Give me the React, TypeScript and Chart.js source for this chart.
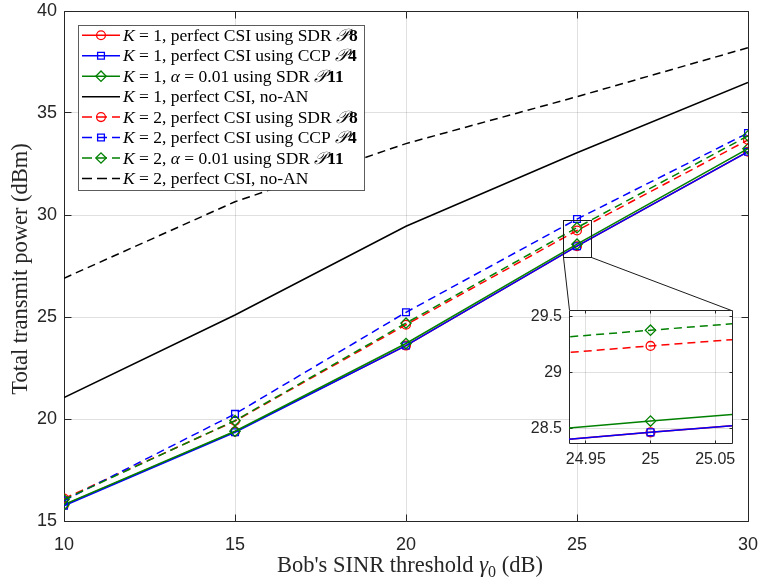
import React, { useEffect, useRef } from "react";
import { Chart, registerables } from "chart.js";

Chart.register(...registerables);

// ---------------- data ----------------
const snrDb = [10, 15, 20, 25, 30];
const k1SdrP8 = [15.78, 19.38, 23.6, 28.47, 33.1];
const k1CcpP4 = [15.75, 19.35, 23.6, 28.47, 33.1];
const k1AlphaP11 = [15.8, 19.4, 23.7, 28.57, 33.25];
const k1NoAn = [21.05, 25.1, 29.45, 33.05, 36.5];
const k2SdrP8 = [16.1, 19.9, 24.62, 29.24, 33.68];
const k2CcpP4 = [16.0, 20.25, 25.23, 29.8, 34.02];
const k2AlphaP11 = [16.05, 19.92, 24.7, 29.38, 33.88];
const k2NoAn = [26.9, 30.65, 33.5, 35.8, 38.2];

const mainXRange = [10, 30];
const mainYRange = [15, 40];
const mainTickStep = 5;
const insetXRange = [24.937, 25.063];
const insetYRange = [28.375, 29.56];
const insetXStep = 0.05;
const insetYStep = 0.5;
const zoomBoxX = [24.6, 25.43];
const zoomBoxY = [27.92, 29.72];

type Seg = [string, string]; // text, style: n normal, i italic, b bold, c calligraphic
const legendLabels: Seg[][] = [
  [["K", "i"], [" = 1, perfect CSI using SDR ", "n"], ["𝒫", "c"], ["8", "b"]],
  [["K", "i"], [" = 1, perfect CSI using CCP ", "n"], ["𝒫", "c"], ["4", "b"]],
  [["K", "i"], [" = 1, ", "n"], ["α", "i"], [" = 0.01 using SDR ", "n"], ["𝒫", "c"], ["11", "b"]],
  [["K", "i"], [" = 1, perfect CSI, no-AN", "n"]],
  [["K", "i"], [" = 2, perfect CSI using SDR ", "n"], ["𝒫", "c"], ["8", "b"]],
  [["K", "i"], [" = 2, perfect CSI using CCP ", "n"], ["𝒫", "c"], ["4", "b"]],
  [["K", "i"], [" = 2, ", "n"], ["α", "i"], [" = 0.01 using SDR ", "n"], ["𝒫", "c"], ["11", "b"]],
  [["K", "i"], [" = 2, perfect CSI, no-AN", "n"]],
];
const yTitle = "Total transmit power (dBm)";
const xTitleParts: Seg[] = [["Bob's SINR threshold ", "n"], ["γ", "i"], ["0", "sub"], [" (dB)", "n"]];

// ---------------- styles ----------------
const W = 758;
const H = 581;
const RED = "#ff0000";
const BLUE = "#0000ff";
const GREEN = "#008000";
const BLACK = "#000000";
const AXIS = "#262626";
const GRID = "rgba(38,38,38,0.14)";
const SANS = "'Liberation Sans', Arial, sans-serif";
const SERIF = "'Liberation Serif', 'Times New Roman', serif";
const LINE_W = 1.5;
const DASH = [8, 5];

type Marker = "circle" | "rect" | "rectRot" | null;
interface SeriesDef {
  values: number[];
  color: string;
  dashed: boolean;
  marker: Marker;
  label: Seg[];
}
const seriesDefs: SeriesDef[] = [
  { values: k1SdrP8, color: RED, dashed: false, marker: "circle", label: legendLabels[0] },
  { values: k1CcpP4, color: BLUE, dashed: false, marker: "rect", label: legendLabels[1] },
  { values: k1AlphaP11, color: GREEN, dashed: false, marker: "rectRot", label: legendLabels[2] },
  { values: k1NoAn, color: BLACK, dashed: false, marker: null, label: legendLabels[3] },
  { values: k2SdrP8, color: RED, dashed: true, marker: "circle", label: legendLabels[4] },
  { values: k2CcpP4, color: BLUE, dashed: true, marker: "rect", label: legendLabels[5] },
  { values: k2AlphaP11, color: GREEN, dashed: true, marker: "rectRot", label: legendLabels[6] },
  { values: k2NoAn, color: BLACK, dashed: true, marker: null, label: legendLabels[7] },
];
const markerRadius: Record<string, number> = { circle: 4.4, rect: 4.8, rectRot: 5.2 };

function buildDatasets() {
  return seriesDefs.map((s, i) => ({
    label: s.label.map((g) => g[0]).join(""),
    data: snrDb.map((x, k) => ({ x, y: s.values[k] })),
    borderColor: s.color,
    backgroundColor: "rgba(0,0,0,0)",
    borderWidth: LINE_W,
    borderDash: s.dashed ? DASH : [],
    pointStyle: s.marker || "circle",
    pointRadius: s.marker ? markerRadius[s.marker] : 0,
    pointBorderColor: s.color,
    pointBackgroundColor: "rgba(0,0,0,0)",
    pointBorderWidth: 1.3,
    tension: 0,
    fill: false,
    order: -i,
  }));
}

const align = (p: number) => Math.round(p - 0.5) + 0.5;
const tickFmt = (v: any) => String(Number(Number(v).toFixed(3)));

function framePlugin(tickLen: number) {
  return {
    id: "frame",
    beforeDatasetsDraw(chart: any) {
      const { ctx, chartArea: a, scales } = chart;
      const L = align(a.left), R = align(a.right), T = align(a.top), B = align(a.bottom);
      ctx.save();
      ctx.strokeStyle = AXIS;
      ctx.lineWidth = 1;
      ctx.setLineDash([]);
      ctx.beginPath();
      ctx.rect(L, T, R - L, B - T);
      for (const t of scales.x.ticks) {
        const x = align(scales.x.getPixelForValue(t.value));
        ctx.moveTo(x, B); ctx.lineTo(x, B - tickLen);
        ctx.moveTo(x, T); ctx.lineTo(x, T + tickLen);
      }
      for (const t of scales.y.ticks) {
        const y = align(scales.y.getPixelForValue(t.value));
        ctx.moveTo(L, y); ctx.lineTo(L + tickLen, y);
        ctx.moveTo(R, y); ctx.lineTo(R - tickLen, y);
      }
      ctx.stroke();
      ctx.restore();
    },
  };
}

function fontFor(style: string, size: number) {
  if (style === "i") return `italic ${size}px ${SERIF}`;
  if (style === "b") return `bold ${size}px ${SERIF}`;
  if (style === "c") return `italic ${size}px ${SERIF}`;
  if (style === "sub") return `${Math.round(size * 0.7)}px ${SERIF}`;
  return `${size}px ${SERIF}`;
}

function segWidth(ctx: CanvasRenderingContext2D, segs: Seg[], size: number) {
  let w = 0;
  for (const [t, s] of segs) {
    ctx.font = fontFor(s, size);
    w += ctx.measureText(t).width;
  }
  return w;
}

function drawSegs(ctx: CanvasRenderingContext2D, segs: Seg[], x: number, y: number, size: number) {
  for (const [t, s] of segs) {
    ctx.font = fontFor(s, size);
    const dy = s === "sub" ? size * 0.2 : 0;
    ctx.fillText(t, x, y + dy);
    x += ctx.measureText(t).width;
  }
  return x;
}

function drawMarker(ctx: CanvasRenderingContext2D, m: Marker, x: number, y: number) {
  if (!m) return;
  const r = markerRadius[m];
  ctx.lineWidth = 1.3;
  ctx.beginPath();
  if (m === "circle") ctx.arc(x, y, r, 0, Math.PI * 2);
  else if (m === "rect") {
    const s = r * Math.SQRT1_2;
    ctx.rect(x - s, y - s, 2 * s, 2 * s);
  } else {
    ctx.moveTo(x - r, y); ctx.lineTo(x, y - r); ctx.lineTo(x + r, y); ctx.lineTo(x, y + r); ctx.closePath();
  }
  ctx.stroke();
}

// Positions of the axes boxes (pixels on the page)
const MAIN_BOX = { left: 64, top: 11, right: 748, bottom: 521 };
const INSET_BOX = { left: 569, top: 310, right: 732, bottom: 443 };

const noScalePad = (s: any) => {
  s.paddingLeft = 0;
  s.paddingRight = 0;
  s.paddingTop = 0;
  s.paddingBottom = 0;
};

const overlayPlugin = {
  id: "overlay",
  afterDraw(chart: any) {
    const { ctx, chartArea: a, scales } = chart;
    const xs = scales.x, ys = scales.y;
    ctx.save();
    // zoom rectangle and connectors
    const zx0 = align(xs.getPixelForValue(zoomBoxX[0]));
    const zx1 = align(xs.getPixelForValue(zoomBoxX[1]));
    const zy0 = align(ys.getPixelForValue(zoomBoxY[1]));
    const zy1 = align(ys.getPixelForValue(zoomBoxY[0]));
    ctx.strokeStyle = "#1a1a1a";
    ctx.lineWidth = 1;
    ctx.setLineDash([]);
    ctx.strokeRect(zx0, zy0, zx1 - zx0, zy1 - zy0);
    ctx.beginPath();
    ctx.moveTo(zx0, zy1); ctx.lineTo(INSET_BOX.left + 0.5, INSET_BOX.top + 0.5);
    ctx.moveTo(zx1, zy1); ctx.lineTo(INSET_BOX.right - 0.5, INSET_BOX.top + 0.5);
    ctx.stroke();

    // legend
    const lgSize = 17.5;
    const lgLeft = 78.5, lgTop = 25.5, rowH = 20.45, firstRow = 35.3;
    let maxW = 0;
    for (const s of seriesDefs) maxW = Math.max(maxW, segWidth(ctx, s.label, lgSize));
    const textX = 123;
    const lgRight = Math.round(textX + maxW + 6) + 0.5;
    const lgBottom = Math.round(firstRow + rowH * (seriesDefs.length - 1) + 12) + 0.5;
    ctx.fillStyle = "#ffffff";
    ctx.fillRect(lgLeft, lgTop, lgRight - lgLeft, lgBottom - lgTop);
    ctx.strokeStyle = "rgba(38,38,38,0.75)";
    ctx.lineWidth = 1;
    ctx.strokeRect(lgLeft, lgTop, lgRight - lgLeft, lgBottom - lgTop);
    seriesDefs.forEach((s, i) => {
      const y = firstRow + i * rowH;
      ctx.strokeStyle = s.color;
      ctx.lineWidth = LINE_W;
      ctx.setLineDash(s.dashed ? [10, 5] : []);
      ctx.beginPath();
      ctx.moveTo(82, y); ctx.lineTo(120, y);
      ctx.stroke();
      ctx.setLineDash([]);
      drawMarker(ctx, s.marker, 101, y);
      ctx.fillStyle = "#000000";
      ctx.textBaseline = "middle";
      ctx.textAlign = "left";
      drawSegs(ctx, s.label, textX, y + 1, lgSize);
    });

    // axis titles
    const tSize = 22.5;
    ctx.fillStyle = AXIS;
    ctx.textAlign = "center";
    ctx.textBaseline = "middle";
    ctx.font = `${tSize}px ${SERIF}`;
    ctx.save();
    ctx.translate(21, (a.top + a.bottom) / 2 + 3);
    ctx.rotate(-Math.PI / 2);
    ctx.fillText(yTitle, 0, 0);
    ctx.restore();
    ctx.textAlign = "left";
    ctx.textBaseline = "alphabetic";
    const xw = segWidth(ctx, xTitleParts, tSize);
    drawSegs(ctx, xTitleParts, (a.left + a.right) / 2 + 4 - xw / 2, 572, tSize);
    ctx.restore();
  },
};

const insetBgPlugin = {
  id: "insetBg",
  beforeDraw(chart: any) {
    const { ctx, chartArea: a } = chart;
    ctx.save();
    ctx.fillStyle = "#ffffff";
    ctx.fillRect(a.left, a.top, a.right - a.left, a.bottom - a.top);
    ctx.restore();
  },
};

function mainConfig(): any {
  const yW = 64, xH = 60;
  return {
    type: "line",
    data: { datasets: buildDatasets() },
    options: {
      responsive: false,
      animation: false,
      devicePixelRatio: 1,
      events: [],
      layout: {
        padding: {
          left: MAIN_BOX.left - yW,
          top: MAIN_BOX.top,
          right: W - MAIN_BOX.right,
          bottom: H - MAIN_BOX.bottom - xH,
        },
      },
      plugins: { legend: { display: false }, tooltip: { enabled: false }, title: { display: false } },
      scales: {
        x: {
          type: "linear",
          min: mainXRange[0],
          max: mainXRange[1],
          ticks: { stepSize: mainTickStep, font: { family: SANS, size: 18 }, color: AXIS, padding: 13, maxRotation: 0 },
          grid: { color: GRID, drawTicks: false, lineWidth: 1 },
          border: { display: false },
          afterFit: (s: any) => { s.height = xH; noScalePad(s); },
        },
        y: {
          type: "linear",
          min: mainYRange[0],
          max: mainYRange[1],
          ticks: { stepSize: mainTickStep, font: { family: SANS, size: 18 }, color: AXIS, padding: 7 },
          grid: { color: GRID, drawTicks: false, lineWidth: 1 },
          border: { display: false },
          afterFit: (s: any) => { s.width = yW; noScalePad(s); },
        },
      },
    },
    plugins: [framePlugin(7), overlayPlugin],
  };
}

function insetConfig(): any {
  const yW = 40, xH = 30;
  return {
    type: "line",
    data: { datasets: buildDatasets() },
    options: {
      responsive: false,
      animation: false,
      devicePixelRatio: 1,
      events: [],
      layout: {
        padding: {
          left: INSET_BOX.left - yW,
          top: INSET_BOX.top,
          right: W - INSET_BOX.right,
          bottom: H - INSET_BOX.bottom - xH,
        },
      },
      plugins: { legend: { display: false }, tooltip: { enabled: false } },
      scales: {
        x: {
          type: "linear",
          min: insetXRange[0],
          max: insetXRange[1],
          ticks: { stepSize: insetXStep, includeBounds: false, callback: tickFmt, font: { family: SANS, size: 16 }, color: AXIS, padding: 7, maxRotation: 0 },
          grid: { color: GRID, drawTicks: false, lineWidth: 1 },
          border: { display: false },
          afterFit: (s: any) => { s.height = xH; noScalePad(s); },
        },
        y: {
          type: "linear",
          min: insetYRange[0],
          max: insetYRange[1],
          ticks: { stepSize: insetYStep, includeBounds: false, callback: tickFmt, font: { family: SANS, size: 16 }, color: AXIS, padding: 7 },
          grid: { color: GRID, drawTicks: false, lineWidth: 1 },
          border: { display: false },
          afterFit: (s: any) => { s.width = yW; noScalePad(s); },
        },
      },
    },
    plugins: [insetBgPlugin, framePlugin(3)],
  };
}

export default function App() {
  const mainRef = useRef<HTMLCanvasElement>(null);
  const insetRef = useRef<HTMLCanvasElement>(null);
  useEffect(() => {
    const main = new Chart(mainRef.current as HTMLCanvasElement, mainConfig());
    const inset = new Chart(insetRef.current as HTMLCanvasElement, insetConfig());
    return () => {
      main.destroy();
      inset.destroy();
    };
  }, []);
  return (
    <div style={{ position: "absolute", left: 0, top: 0, width: W, height: H, background: "#ffffff" }}>
      <canvas ref={mainRef} width={W} height={H} style={{ position: "absolute", left: 0, top: 0 }} />
      <canvas ref={insetRef} width={W} height={H} style={{ position: "absolute", left: 0, top: 0, pointerEvents: "none" }} />
    </div>
  );
}
